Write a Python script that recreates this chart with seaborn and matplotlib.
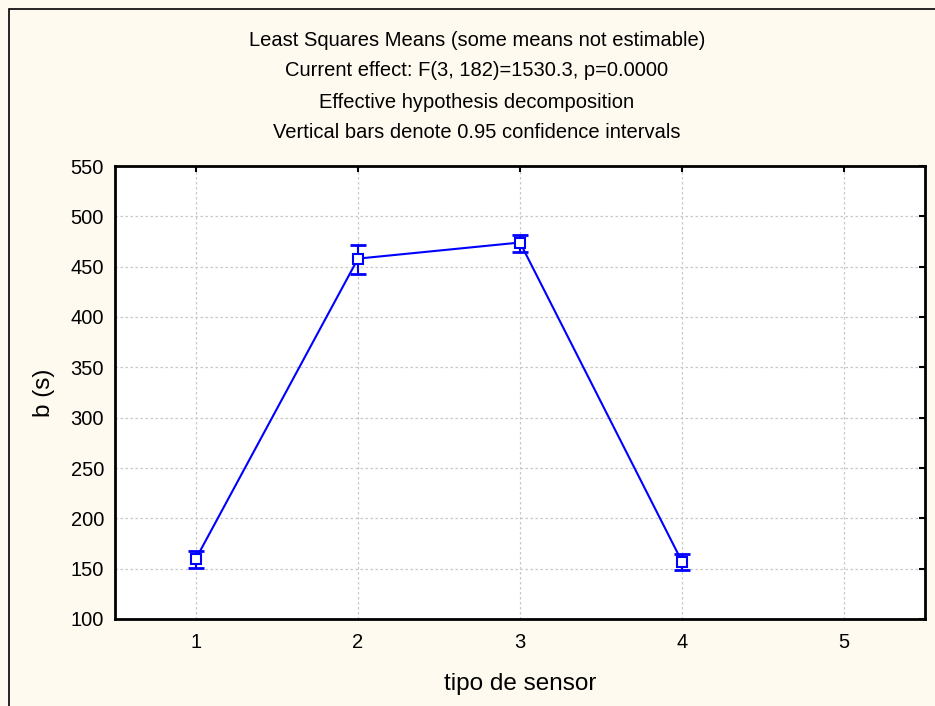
import matplotlib
matplotlib.use("Agg")
import matplotlib.pyplot as plt
import matplotlib.patches as patches
import seaborn as sns
import pandas as pd

# Values
sensor_type = [1, 2, 3, 4]
mean_b = [160, 458, 474, 157]
ci_low = [151, 443, 465, 149]
ci_high = [168, 472, 481, 165]

x_ticks = [1, 2, 3, 4, 5]
y_ticks = [100, 150, 200, 250, 300, 350, 400, 450, 500, 550]

title_lines = [
    "Least Squares Means (some means not estimable)",
    "Current effect: F(3, 182)=1530.3, p=0.0000",
    "Effective hypothesis decomposition",
    "Vertical bars denote 0.95 confidence intervals",
]

df = pd.DataFrame({"sensor": sensor_type, "b": mean_b,
                   "low": ci_low, "high": ci_high})

sns.set_theme(style="white")
plt.rcParams["font.family"] = ["Liberation Sans", "DejaVu Sans"]
plt.rcParams["text.color"] = "black"
plt.rcParams["axes.labelcolor"] = "black"

bg = "#fffaf0"
blue = "#0000ff"

fig = plt.figure(figsize=(9.35, 7.06), dpi=100, facecolor=bg)
ax = fig.add_axes([115 / 935, 87 / 706, 810 / 935, 453 / 706])
ax.set_facecolor("white")

# Outer frame (only top and left edges are visible in the crop)
frame = patches.Rectangle((9 / 935, -0.1), 1.2, 1 - 9 / 706 + 0.1,
                          transform=fig.transFigure, fill=False,
                          edgecolor="black", linewidth=1.2, zorder=0)
fig.patches.append(frame)

# Confidence interval bars
yerr = [df["b"] - df["low"], df["high"] - df["b"]]
ax.errorbar(df["sensor"], df["b"], yerr=yerr, fmt="none", ecolor=blue,
            elinewidth=1.5, capsize=5.5, capthick=2, zorder=3)

# Means connected by a line
sns.lineplot(data=df, x="sensor", y="b", ax=ax, color=blue, linewidth=1.5,
             marker="s", markersize=6.5, markerfacecolor="white",
             markeredgecolor=blue, markeredgewidth=1.5, zorder=4)

ax.set_xlim(0.5, 5.5)
ax.set_ylim(100, 550)
ax.set_xticks(x_ticks)
ax.set_yticks(y_ticks)
ax.tick_params(axis="both", direction="in", length=4, width=1.5,
               labelsize=14.5, colors="black", top=True, right=True, pad=8)
ax.tick_params(axis="x", pad=10)
ax.grid(True, color="#c8c8c8", linestyle=(0, (2, 2)), linewidth=0.9)

for side in ax.spines.values():
    side.set_color("black")
    side.set_linewidth(2)

ax.set_xlabel("tipo de sensor", fontsize=17.5)
ax.set_ylabel("b (s)", fontsize=17.5)
ax.xaxis.set_label_coords(0.5, -54 / 453)
ax.yaxis.set_label_coords(-60 / 810, 0.5)

for i, line in enumerate(title_lines):
    fig.text(477 / 935, 1 - (40 + i * 31) / 706, line, ha="center",
             va="center", fontsize=14.5)

fig.savefig("out.png", dpi=100, facecolor=bg)
